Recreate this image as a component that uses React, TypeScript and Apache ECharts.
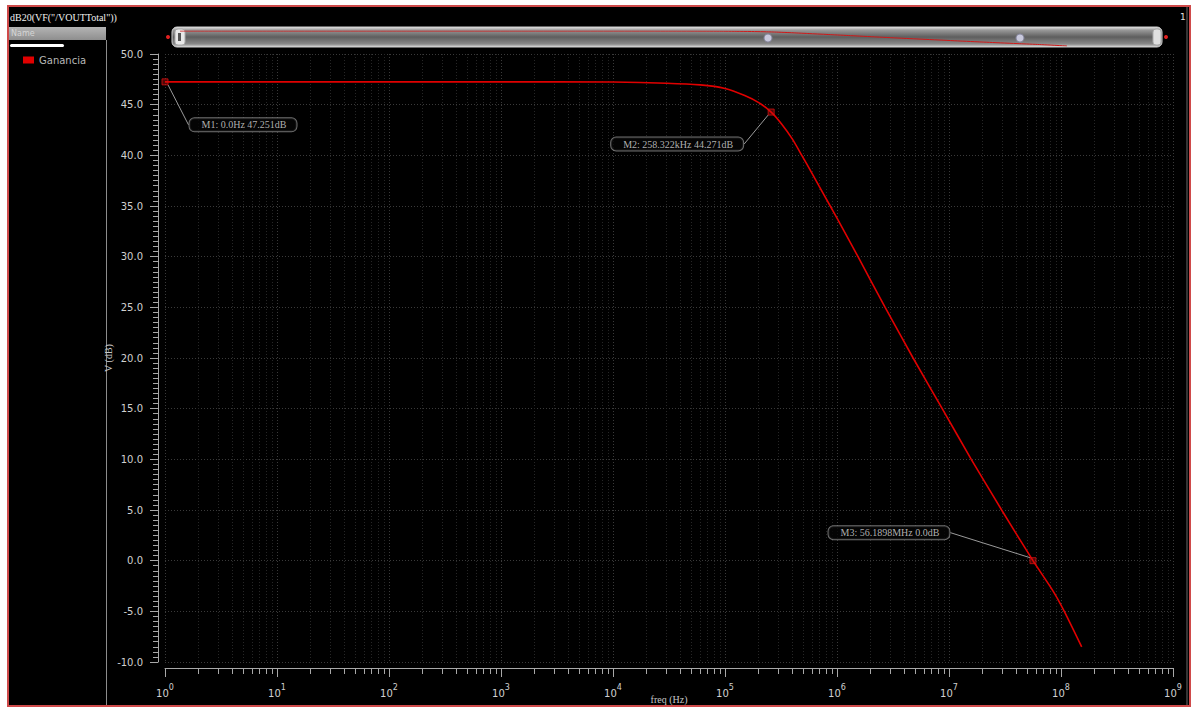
import React, { useEffect, useRef } from "react";
import * as echarts from "echarts";

// Frequency response of the amplifier output, dB20(VF("/VOUTTotal"))
const freqHz = [
  1, 10, 100, 1e3, 1e4, 3e4, 6e4, 1e5, 1.5e5, 2e5, 258322, 3.2e5, 4e5, 4.85e5,
  6e5, 8.7e5, 1e6, 1.54e6, 2.69e6, 4.78e6, 8.7e6, 1.58e7, 2.95e7, 5.61898e7,
  8.5e7, 1.07e8, 1.53e8,
];
const gainDb = [
  47.251, 47.251, 47.251, 47.25, 47.23, 47.12, 46.95, 46.6, 45.9, 45.2, 44.271,
  43.1, 41.6, 40.0, 38.2, 35.0, 33.8, 30.0, 25.0, 20.0, 15.0, 10.0, 5.0, 0.0,
  -3.0, -5.0, -8.5,
];
const seriesName = "Ganancia";
const plotTitle = 'dB20(VF("/VOUTTotal"))';
const xAxisName = "freq (Hz)";
const yAxisName = "V (dB)";

// Markers placed on the trace
const markerFreqHz = [1, 258322, 56189800];
const markerDb = [47.251, 44.271, 0.0];
const markerText = [
  "M1: 0.0Hz 47.251dB",
  "M2: 258.322kHz 44.271dB",
  "M3: 56.1898MHz 0.0dB",
];

const SERIF = "'Liberation Serif', 'DejaVu Serif', serif";
const SANS = "'DejaVu Sans', sans-serif";

export default function App() {
  const ref = useRef<HTMLDivElement>(null);

  useEffect(() => {
    if (!ref.current) return;
    const chart = echarts.init(ref.current, null, { renderer: "svg" });

    const traceData = freqHz.map((f, i) => [f, gainDb[i]]);
    const labelShift = [
      [78, 43],
      [-94, 32],
      [-144, -28],
    ];

    chart.setOption({
      animation: false,
      backgroundColor: "#ffffff",
      textStyle: { fontFamily: SANS },
      legend: {
        data: [seriesName],
        left: 18,
        top: 50,
        icon: "rect",
        itemWidth: 11,
        itemHeight: 7,
        itemGap: 4,
        textStyle: { color: "#b8b8b8", fontSize: 10, fontFamily: SANS },
      },
      grid: [
        { left: 165, right: 23, top: 54, bottom: 47, outerBoundsMode: "none", containLabel: false },
        { left: 180, top: 31, width: 887, height: 15, outerBoundsMode: "none", containLabel: false },
      ],
      xAxis: [
        {
          type: "log",
          logBase: 10,
          min: 1,
          max: 1e9,
          gridIndex: 0,
          offset: 6,
          name: xAxisName,
          nameLocation: "middle",
          nameGap: 26,
          nameMoveOverlap: false,
          nameTextStyle: { color: "#c8c8c8", fontSize: 10, fontFamily: SERIF },
          axisLine: { show: true, onZero: false, lineStyle: { color: "#a8a8a8", width: 1 } },
          axisTick: { show: true, length: 9, lineStyle: { color: "#a8a8a8" } },
          minorTick: {
            show: true,
            splitNumber: 9,
            length: 6,
            lineStyle: { color: "#a8a8a8" },
          },
          axisLabel: {
            margin: 15,
            formatter: (v: number) => `{b|10}{s|${Math.round(Math.log10(v))}}`,
            rich: {
              b: { fontSize: 10, color: "#d0d0d0", lineHeight: 20, fontFamily: SANS },
              s: { fontSize: 8, color: "#d0d0d0", verticalAlign: "top", fontFamily: SANS },
            },
          },
          splitLine: {
            show: true,
            lineStyle: { color: "#3a3a3a", type: [1, 2], width: 1 },
          },
          minorSplitLine: {
            show: true,
            lineStyle: { color: "#262626", type: [1, 2], width: 1 },
          },
        },
        {
          type: "log",
          gridIndex: 1,
          min: 1,
          max: freqHz[freqHz.length - 1],
          show: false,
        },
      ],
      yAxis: [
        {
          type: "value",
          gridIndex: 0,
          min: -10,
          max: 50,
          interval: 5,
          offset: 7,
          name: yAxisName,
          nameLocation: "middle",
          nameGap: 45,
          nameMoveOverlap: false,
          nameTextStyle: { color: "#c8c8c8", fontSize: 10, fontFamily: SERIF },
          axisLine: { show: true, onZero: false, lineStyle: { color: "#a8a8a8", width: 1 } },
          axisTick: { show: true, length: 8, lineStyle: { color: "#a8a8a8" } },
          minorTick: {
            show: true,
            splitNumber: 10,
            length: 5,
            lineStyle: { color: "#a8a8a8" },
          },
          axisLabel: {
            margin: 15,
            color: "#d0d0d0",
            fontSize: 10,
            formatter: (v: number) => v.toFixed(1),
          },
          splitLine: {
            show: true,
            lineStyle: { color: "#3a3a3a", type: [1, 2], width: 1 },
          },
        },
        {
          type: "value",
          gridIndex: 1,
          min: Math.min(...gainDb),
          max: Math.max(...gainDb),
          show: false,
        },
      ],
      series: [
        {
          name: seriesName,
          type: "line",
          xAxisIndex: 0,
          yAxisIndex: 0,
          data: traceData,
          showSymbol: false,
          smooth: 0.2,
          color: "#e00000",
          lineStyle: { color: "#e00000", width: 1.6 },
          z: 3,
        },
        {
          name: "markers",
          type: "scatter",
          xAxisIndex: 0,
          yAxisIndex: 0,
          symbol: "rect",
          symbolSize: 6,
          itemStyle: {
            color: "rgba(220,20,20,0.45)",
            borderColor: "#d41010",
            borderWidth: 1,
          },
          data: markerFreqHz.map((f, i) => ({
            value: [f, markerDb[i]],
            name: markerText[i],
          })),
          label: {
            show: true,
            position: "inside",
            formatter: (p: any) => p.name,
            color: "#dcdcdc",
            fontSize: 10,
            fontFamily: SERIF,
            backgroundColor: "#050505",
            borderColor: "#8a8a8a",
            borderWidth: 1,
            borderRadius: 5,
            padding: [2, 10, 1, 12],
          },
          labelLine: {
            show: true,
            lineStyle: { color: "#9a9a9a", width: 1 },
          },
          labelLayout: (p: any) => ({
            dx: labelShift[p.dataIndex][0],
            dy: labelShift[p.dataIndex][1],
          }),
          z: 4,
        },
        {
          name: "overview",
          type: "line",
          xAxisIndex: 1,
          yAxisIndex: 1,
          data: traceData,
          showSymbol: false,
          silent: true,
          smooth: 0.2,
          lineStyle: { color: "#d01818", width: 1 },
          z: 6,
        },
      ],
      graphic: [
        {
          type: "rect",
          z: -100,
          shape: { x: 8, y: 6, width: 1182, height: 700 },
          style: { fill: "#000000", stroke: "#cf4a4a", lineWidth: 2 },
        },
        {
          type: "line",
          z: -90,
          shape: { x1: 1187, y1: 7, x2: 1187, y2: 705 },
          style: { stroke: "#6a6a6a", lineWidth: 1 },
        },
        {
          type: "text",
          x: 10,
          y: 12,
          style: {
            text: plotTitle,
            fill: "#f0f0f0",
            font: `10px ${SERIF}`,
          },
        },
        {
          type: "text",
          x: 1180,
          y: 12,
          style: { text: "1", fill: "#e0e0e0", font: `9px ${SANS}` },
        },
        {
          type: "rect",
          z: -80,
          shape: { x: 9, y: 27, width: 97, height: 13 },
          style: {
            fill: {
              type: "linear",
              x: 0,
              y: 0,
              x2: 0,
              y2: 1,
              colorStops: [
                { offset: 0, color: "#b4b4b4" },
                { offset: 1, color: "#8e8e8e" },
              ],
            },
          },
        },
        {
          type: "text",
          x: 11,
          y: 29,
          style: { text: "Name", fill: "#d6d6d6", font: `8px ${SANS}` },
        },
        {
          type: "rect",
          shape: { x: 10, y: 44, width: 54, height: 3, r: 1.5 },
          style: { fill: "#ffffff" },
        },
        {
          type: "line",
          z: -80,
          shape: { x1: 106.5, y1: 40, x2: 106.5, y2: 705 },
          style: { stroke: "#8c8c8c", lineWidth: 1 },
        },
        // horizontal scroll bar above the plot
        {
          type: "rect",
          z: -50,
          shape: { x: 172, y: 27, width: 990, height: 20, r: 5 },
          style: {
            fill: {
              type: "linear",
              x: 0,
              y: 0,
              x2: 0,
              y2: 1,
              colorStops: [
                { offset: 0, color: "#e6e6e6" },
                { offset: 0.15, color: "#9a9a9a" },
                { offset: 0.5, color: "#5e5e5e" },
                { offset: 0.85, color: "#8a8a8a" },
                { offset: 1, color: "#d8d8d8" },
              ],
            },
            stroke: "#cfcfcf",
            lineWidth: 1,
          },
        },
        {
          type: "rect",
          z: -40,
          shape: { x: 175, y: 29, width: 10, height: 16, r: 3 },
          style: { fill: "#e8e8e8", stroke: "#aaaaaa", lineWidth: 1 },
        },
        {
          type: "rect",
          z: -40,
          shape: { x: 178, y: 33, width: 3, height: 8 },
          style: { fill: "#555555" },
        },
        {
          type: "rect",
          z: -40,
          shape: { x: 1153, y: 29, width: 8, height: 16, r: 3 },
          style: { fill: "#e0e0e0", stroke: "#aaaaaa", lineWidth: 1 },
        },
        {
          type: "circle",
          shape: { cx: 168, cy: 37, r: 2 },
          style: { fill: "#e02020" },
        },
        {
          type: "circle",
          shape: { cx: 1166, cy: 37, r: 2 },
          style: { fill: "#e02020" },
        },
        {
          type: "circle",
          z: 10,
          shape: { cx: 768, cy: 38, r: 4 },
          style: { fill: "#c8c8dc", stroke: "#8888a0", lineWidth: 1 },
        },
        {
          type: "circle",
          z: 10,
          shape: { cx: 1020, cy: 38, r: 4 },
          style: { fill: "#c8c8dc", stroke: "#8888a0", lineWidth: 1 },
        },
      ],
    });

    return () => chart.dispose();
  }, []);

  return (
    <div
      style={{
        position: "fixed",
        left: 0,
        top: 0,
        width: 1196,
        height: 709,
        background: "#ffffff",
      }}
    >
      <div ref={ref} style={{ width: 1196, height: 709 }} />
    </div>
  );
}
